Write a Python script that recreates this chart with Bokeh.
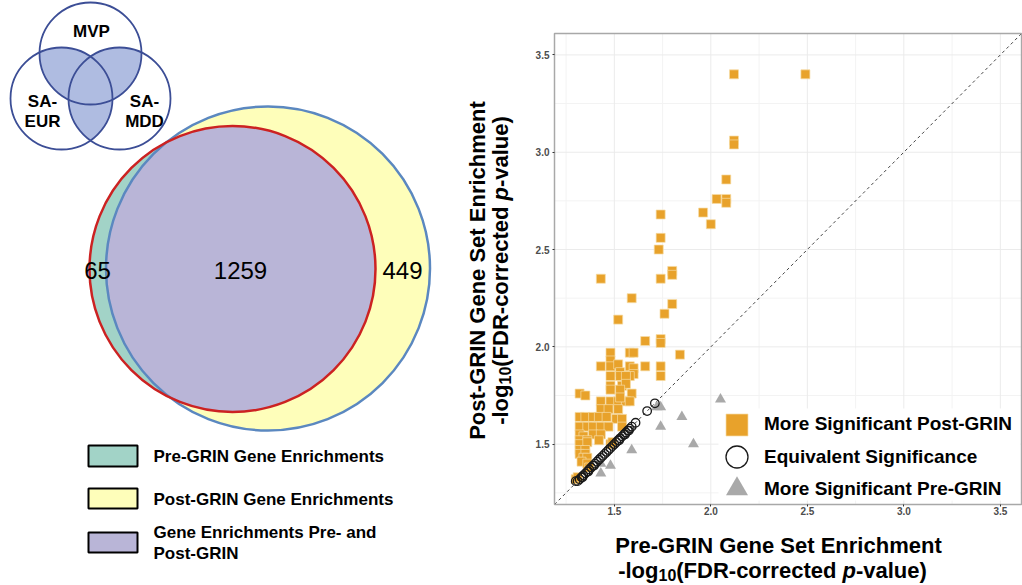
import numpy as np
from bokeh.plotting import figure
from bokeh.models import Range1d, Label, FixedTicker, Legend, LegendItem, NumeralTickFormatter
from bokeh.embed import file_html
from bokeh.resources import INLINE
from bokeh.core.properties import value

# ---------------- data ----------------
venn_counts = [65, 1259, 449]            # pre-only, both, post-only
venn_legend = ["Pre-GRIN Gene Enrichments", "Post-GRIN Gene Enrichments",
               "Gene Enrichments Pre- and", "Post-GRIN"]
cohorts = ["MVP", "SA-", "EUR", "SA-", "MDD"]

series_names = ["More Significant Post-GRIN", "Equivalent Significance", "More Significant Pre-GRIN"]

post_x = [2.12, 2.49, 2.12, 2.12, 2.08, 2.03, 2.08, 2.08, 1.96, 2.00, 1.74, 1.74, 1.73, 1.80, 1.80,
          1.43, 1.74, 1.59, 1.80, 1.76, 1.52, 1.66, 1.74, 1.74, 1.84, 1.74, 1.74, 1.66, 1.43, 1.48,
          1.48, 1.48, 1.48, 1.52, 1.58, 1.60, 1.53, 1.58, 1.60, 1.60, 1.58, 1.53, 1.56, 1.48, 1.54,
          1.56, 1.48, 1.53, 1.59, 1.32, 1.35, 1.43, 1.48, 1.52, 1.56, 1.53, 1.58, 1.43, 1.47, 1.52,
          1.32, 1.35, 1.39, 1.42, 1.46, 1.51, 1.54, 1.32, 1.36, 1.39, 1.43, 1.47, 1.54, 1.32, 1.34,
          1.39, 1.43, 1.32, 1.36, 1.42, 1.32, 1.36, 1.48, 1.32, 1.35, 1.32, 1.35, 1.34, 1.36, 1.33,
          1.36, 1.30, 1.31, 1.37, 1.49]
post_y = [3.40, 3.40, 3.06, 3.04, 2.86, 2.76, 2.76, 2.74, 2.69, 2.63, 2.68, 2.56, 2.50, 2.39, 2.37,
          2.35, 2.35, 2.25, 2.22, 2.17, 2.14, 2.03, 2.04, 2.02, 1.96, 1.90, 1.85, 1.90, 1.90, 1.97,
          1.93, 1.90, 1.85, 1.91, 1.97, 1.97, 1.87, 1.90, 1.89, 1.86, 1.85, 1.85, 1.85, 1.80, 1.80,
          1.81, 1.78, 1.78, 1.76, 1.76, 1.75, 1.72, 1.72, 1.72, 1.72, 1.74, 1.72, 1.68, 1.68, 1.68,
          1.64, 1.64, 1.64, 1.64, 1.64, 1.63, 1.63, 1.59, 1.59, 1.59, 1.59, 1.59, 1.59, 1.55, 1.54,
          1.55, 1.55, 1.52, 1.52, 1.52, 1.50, 1.51, 1.50, 1.47, 1.47, 1.45, 1.45, 1.43, 1.43, 1.41,
          1.40, 1.32, 1.33, 1.38, 1.51]

eq_x = [1.30, 1.31, 1.32, 1.33, 1.335, 1.34, 1.35, 1.36, 1.365, 1.37, 1.38, 1.39, 1.395, 1.40,
        1.41, 1.42, 1.43, 1.44, 1.45, 1.46, 1.47, 1.48, 1.49, 1.50, 1.51, 1.52, 1.525, 1.53, 1.54,
        1.55, 1.555, 1.56, 1.57, 1.575, 1.58, 1.59, 1.61, 1.67, 1.71]
eq_y = [1.31, 1.31, 1.32, 1.33, 1.33, 1.34, 1.35, 1.36, 1.36, 1.37, 1.38, 1.39, 1.39, 1.40,
        1.41, 1.42, 1.43, 1.44, 1.45, 1.46, 1.47, 1.48, 1.49, 1.50, 1.51, 1.52, 1.52, 1.53, 1.54,
        1.55, 1.55, 1.56, 1.57, 1.57, 1.58, 1.59, 1.61, 1.67, 1.71]

pre_x = [2.05, 1.72, 1.74, 1.85, 1.74, 1.91, 1.59, 1.48, 1.43, 1.43]
pre_y = [1.73, 1.69, 1.69, 1.64, 1.59, 1.50, 1.47, 1.39, 1.40, 1.35]

tick_vals = [1.5, 2.0, 2.5, 3.0, 3.5]
minor_vals = [1.25, 1.75, 2.25, 2.75, 3.25]
axis_limits = [1.19, 3.61]

ORANGE = "#E8A22B"
GRAY = "#A9A9A9"
FONT = "Liberation Sans"

# ---------------- geometry (canvas pixels, origin top-left) ----------------
W_PAGE, H_PAGE = 1022, 585
LO, HI = axis_limits
PL, PB, PT = 554.0, 504.0, 33.0     # scatter panel left / bottom / top
XS = 193.0                          # px per unit, x
YS = (PB - PT) / (HI - LO)          # px per unit, y


def dx(px):
    return LO + (px - PL) / XS


def dy(py):
    return LO + (PB - py) / YS


p = figure(width=W_PAGE, height=H_PAGE, x_range=Range1d(dx(0), dx(W_PAGE)),
           y_range=Range1d(dy(H_PAGE), dy(0)), output_backend="svg", toolbar_location=None,
           min_border=0)
p.extra_x_ranges = {"px": Range1d(0, W_PAGE)}
p.extra_y_ranges = {"py": Range1d(H_PAGE, 0)}
p.outline_line_color = None
p.grid.visible = False
PX = dict(x_range_name="px", y_range_name="py")

# ---------------- Venn diagrams (canvas pixel coordinates) ----------------


def lens(c1, r1, c2, r2, n=720):
    def arc(ca, ra, cb, rb):
        base = np.arctan2(ca[1] - cb[1], ca[0] - cb[0])
        t = base + np.linspace(0, 2 * np.pi, n)
        xs = ca[0] + ra * np.cos(t)
        ys = ca[1] + ra * np.sin(t)
        inside = (xs - cb[0]) ** 2 + (ys - cb[1]) ** 2 <= rb ** 2
        return xs[inside], ys[inside]
    x1, y1 = arc(c1, r1, c2, r2)
    x2, y2 = arc(c2, r2, c1, r1)
    return list(np.concatenate([x1, x2])), list(np.concatenate([y1, y2]))


post_c, post_r = (267.5, 268.0), 162.0
pre_c, pre_r = (232.0, 268.5), 143.0
p.circle([post_c[0]], [post_c[1]], radius=post_r, fill_color="#FEFEBA", line_color=None, **PX)
p.circle([pre_c[0]], [pre_c[1]], radius=pre_r, fill_color="#A2D3C7", line_color=None, **PX)
lx, ly = lens(pre_c, pre_r, post_c, post_r)
p.patch(lx, ly, fill_color="#B9B5D7", line_color=None, **PX)
p.circle([post_c[0]], [post_c[1]], radius=post_r, fill_color=None, line_color="#5B88C0",
         line_width=2.5, **PX)
p.circle([pre_c[0]], [pre_c[1]], radius=pre_r, fill_color=None, line_color="#CC2222",
         line_width=2.5, **PX)
p.text(x=[97, 240, 402], y=[270, 270, 270], text=[str(v) for v in venn_counts],
       text_font=value(FONT), text_font_size=value("24px"), text_align="center",
       text_baseline="middle", text_color="black", **PX)

sc_c = [(90.0, 53.0), (61.0, 98.0), (119.0, 98.0)]
sr = 51.0
p.circle([c[0] for c in sc_c], [c[1] for c in sc_c], radius=sr, fill_color="white",
         line_color=None, **PX)
for i, j in [(0, 1), (0, 2), (1, 2)]:
    ax_, ay_ = lens(sc_c[i], sr, sc_c[j], sr)
    p.patch(ax_, ay_, fill_color="#AFBCE1", line_color=None, **PX)
p.circle([c[0] for c in sc_c], [c[1] for c in sc_c], radius=sr, fill_color=None,
         line_color="#3C4E96", line_width=1.8, **PX)
p.text(x=[91, 42, 42, 144, 144], y=[31, 101, 121, 101, 121], text=cohorts,
       text_font=value(FONT), text_font_size=value("17px"), text_font_style="bold",
       text_align="center", text_baseline="middle", text_color="black", **PX)

p.quad(left=[88, 88, 88], right=[137, 137, 137], top=[445, 488, 532], bottom=[466, 508, 552],
       fill_color=["#A2D3C7", "#FEFEBA", "#B9B5D7"], line_color="black", line_width=2, **PX)
p.text(x=[153, 153, 153, 153], y=[456, 499, 532, 553], text=venn_legend,
       text_font=value(FONT), text_font_size=value("17px"), text_font_style="bold",
       text_align="left", text_baseline="middle", text_color="black", **PX)

# ---------------- scatter panel ----------------
grid_major = tick_vals
grid_minor = minor_vals
p.segment(x0=grid_minor, y0=[LO] * len(grid_minor), x1=grid_minor, y1=[HI] * len(grid_minor),
          line_color="#F3F3F3", line_width=1)
p.segment(x0=[LO] * len(grid_minor), y0=grid_minor, x1=[HI] * len(grid_minor), y1=grid_minor,
          line_color="#F3F3F3", line_width=1)
p.segment(x0=grid_major, y0=[LO] * len(grid_major), x1=grid_major, y1=[HI] * len(grid_major),
          line_color="#EBEBEB", line_width=1)
p.segment(x0=[LO] * len(grid_major), y0=grid_major, x1=[HI] * len(grid_major), y1=grid_major,
          line_color="#EBEBEB", line_width=1)

# white legend background (canvas px)
p.quad(left=[718], right=[1020], top=[408], bottom=[500], fill_color="white", line_color=None, **PX)

p.line(axis_limits, axis_limits, line_color="#444444", line_width=1, line_dash="3 3")

r_sq = p.scatter(post_x, post_y, marker="square", size=9, fill_color=ORANGE,
                 line_color="#F6DCA6", line_width=0.7)
r_tr = p.scatter(pre_x, pre_y, marker="triangle", size=11, fill_color=GRAY, line_color=None)
r_ci = p.scatter(eq_x, eq_y, marker="circle", size=8.5, fill_color=None, line_color="#1A1A1A",
                 line_width=1.3)

p.quad(left=[LO], right=[HI], bottom=[LO], top=[HI], fill_color=None, line_color="#A8A8A8",
       line_width=1.5)

ticker = FixedTicker(ticks=tick_vals, minor_ticks=minor_vals)
p.xaxis.fixed_location = LO
p.yaxis.fixed_location = LO
for ax in (p.xaxis[0], p.yaxis[0]):
    ax.ticker = ticker
    ax.bounds = (LO, HI)
    ax.formatter = NumeralTickFormatter(format="0.0")
    ax.axis_line_color = None
    ax.major_tick_line_color = "#333333"
    ax.major_tick_out = 2
    ax.major_tick_in = 0
    ax.minor_tick_line_color = None
    ax.major_label_text_font = FONT
    ax.major_label_text_font_style = "bold"
    ax.major_label_text_font_size = "10px"
    ax.major_label_text_color = "#4D4D4D"
p.xaxis.major_label_standoff = -2
p.yaxis.major_label_standoff = 1

# scatter legend: one legend per row so that the keys can be large
rows_cy = [424, 456.5, 488.5]
for name, rend, cy in zip(series_names, [r_sq, r_ci, r_tr], rows_cy):
    leg = Legend(items=[LegendItem(label=name, renderers=[rend])],
                 location=(736.5 - 27.5, H_PAGE - cy - 27.5),
                 glyph_width=55, glyph_height=55, spacing=0, padding=0, margin=0,
                 label_standoff=-1, background_fill_alpha=0, border_line_color=None,
                 label_text_font=FONT, label_text_font_style="bold", label_text_font_size="19px",
                 label_text_color="black")
    p.add_layout(leg)

# axis titles (canvas px), composed from pieces
WID = {'-': 333, 'l': 278, 'o': 611, 'g': 611, '1': 556, '0': 556, '(': 333, 'F': 611, 'D': 722,
       'R': 722, 'c': 556, 'r': 389, 'e': 556, 't': 333, 'd': 611, ' ': 278, 'p': 611, 'v': 556,
       'a': 556, 'u': 611, ')': 333}


def tw(s, fs):
    return sum(WID[c] for c in s) * fs / 1000.0


pieces = [("-log", 22, "bold", 0), ("10", 16, "bold", 4), ("(FDR-corrected ", 22, "bold", 0),
          ("p", 22, "bold italic", 0), ("-value)", 22, "bold", 0)]
total = sum(tw(t, fs) for t, fs, _, _ in pieces)

HB = -8    # baseline correction (horizontal titles)
VB = -10   # baseline correction (vertical titles)

p.add_layout(Label(x=778, y=553 + HB, text="Pre-GRIN Gene Set Enrichment", text_font=FONT,
                   text_font_style="bold", text_font_size="22px", text_align="center",
                   text_baseline="alphabetic", text_color="black", **PX))
cum = 0.0
start = 772 - total / 2
for t, fs, st, off in pieces:
    p.add_layout(Label(x=start + cum, y=578 + HB + off, text=t, text_font=FONT, text_font_style=st,
                       text_font_size=f"{fs}px", text_align="left", text_baseline="alphabetic",
                       text_color="black", **PX))
    cum += tw(t, fs)

p.add_layout(Label(x=487 + VB, y=270, text="Post-GRIN Gene Set Enrichment", text_font=FONT,
                   text_font_style="bold", text_font_size="22px", text_align="center",
                   text_baseline="alphabetic", angle=np.pi / 2, text_color="black", **PX))
cum = 0.0
start_y = 270 + total / 2
for t, fs, st, off in pieces:
    p.add_layout(Label(x=510 + VB + off, y=start_y - cum, text=t, text_font=FONT,
                       text_font_style=st, text_font_size=f"{fs}px", text_align="left",
                       text_baseline="alphabetic", angle=np.pi / 2, text_color="black", **PX))
    cum += tw(t, fs)

open("out.html", "w").write(file_html(p, INLINE))
